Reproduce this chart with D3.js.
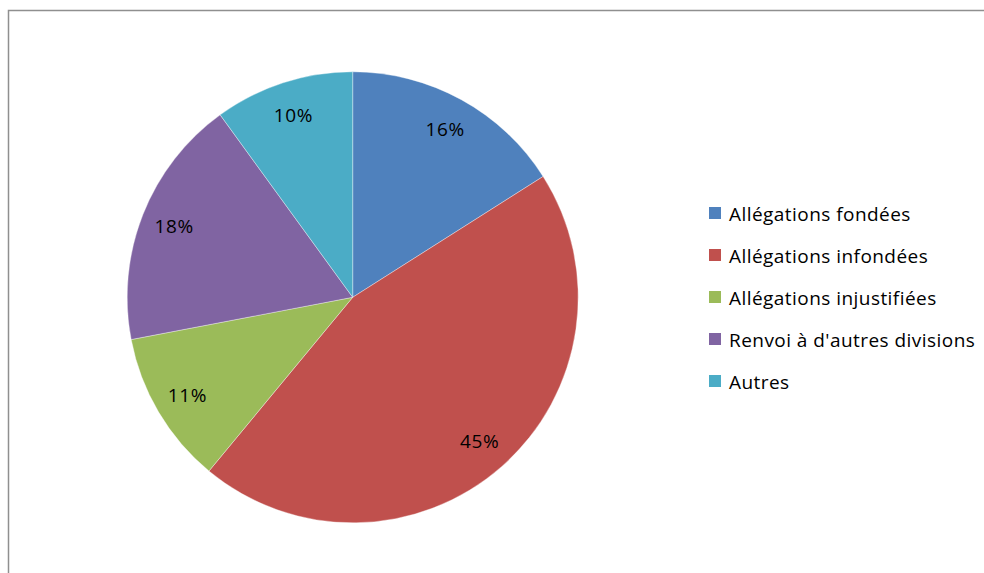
<!DOCTYPE html>
<html>
<head>
<meta charset="utf-8">
<script src="https://cdn.jsdelivr.net/npm/d3@7"></script>
<style>
  html, body { margin: 0; padding: 0; background: #fff; }
  svg { display: block; }
  text { font-family: "Open Sans", sans-serif; fill: #000; }
</style>
</head>
<body>
<svg id="chart" width="984" height="573"></svg>
<script>
// Répartition des dossiers traités (en %)
const categories = [
  "Allégations fondées",
  "Allégations infondées",
  "Allégations injustifiées",
  "Renvoi à d'autres divisions",
  "Autres"
];
const values = [16, 45, 11, 18, 10];
const colors = ["#4F81BD", "#C0504D", "#9BBB59", "#8064A2", "#4BACC6"];

const svg = d3.select("#chart");

// Cadre de la zone du graphique
svg.append("rect")
  .attr("x", 8.5).attr("y", 10.5)
  .attr("width", 1100).attr("height", 1000)
  .attr("fill", "none")
  .attr("stroke", "#8f8f8f")
  .attr("stroke-width", 1.5);

const cx = 352.7, cy = 297.3, radius = 225.5, labelRadius = 192;

const data = categories.map((c, i) => ({ category: c, value: values[i], color: colors[i] }));

const pie = d3.pie().sort(null).value(d => d.value);
const arcs = pie(data);

const arc = d3.arc().innerRadius(0).outerRadius(radius);
const labelArc = d3.arc().innerRadius(labelRadius).outerRadius(labelRadius);

const g = svg.append("g").attr("transform", `translate(${cx},${cy})`);

g.selectAll("path.slice")
  .data(arcs)
  .enter().append("path")
  .attr("class", "slice")
  .attr("d", arc)
  .attr("fill", d => d.data.color)
  .attr("stroke", "#ffffff")
  .attr("stroke-width", 0.6)
  .attr("stroke-opacity", 0.6);

g.selectAll("text.pct")
  .data(arcs)
  .enter().append("text")
  .attr("class", "pct")
  .attr("transform", d => `translate(${labelArc.centroid(d)})`)
  .attr("text-anchor", "middle")
  .attr("dy", "0.36em")
  .style("font-size", "19px")
  .style("letter-spacing", "0.6px")
  .text(d => d.data.value + "%");

// Légende
const legend = svg.append("g").attr("transform", "translate(709,207)");
const rows = legend.selectAll("g.row")
  .data(data)
  .enter().append("g")
  .attr("class", "row")
  .attr("transform", (d, i) => `translate(0,${i * 42})`);

rows.append("rect")
  .attr("width", 12).attr("height", 12)
  .attr("fill", d => d.color);

rows.append("text")
  .attr("x", 20).attr("y", 14)
  .style("font-size", "19px")
  .style("letter-spacing", "0.45px")
  .text(d => d.category);
</script>
</body>
</html>
